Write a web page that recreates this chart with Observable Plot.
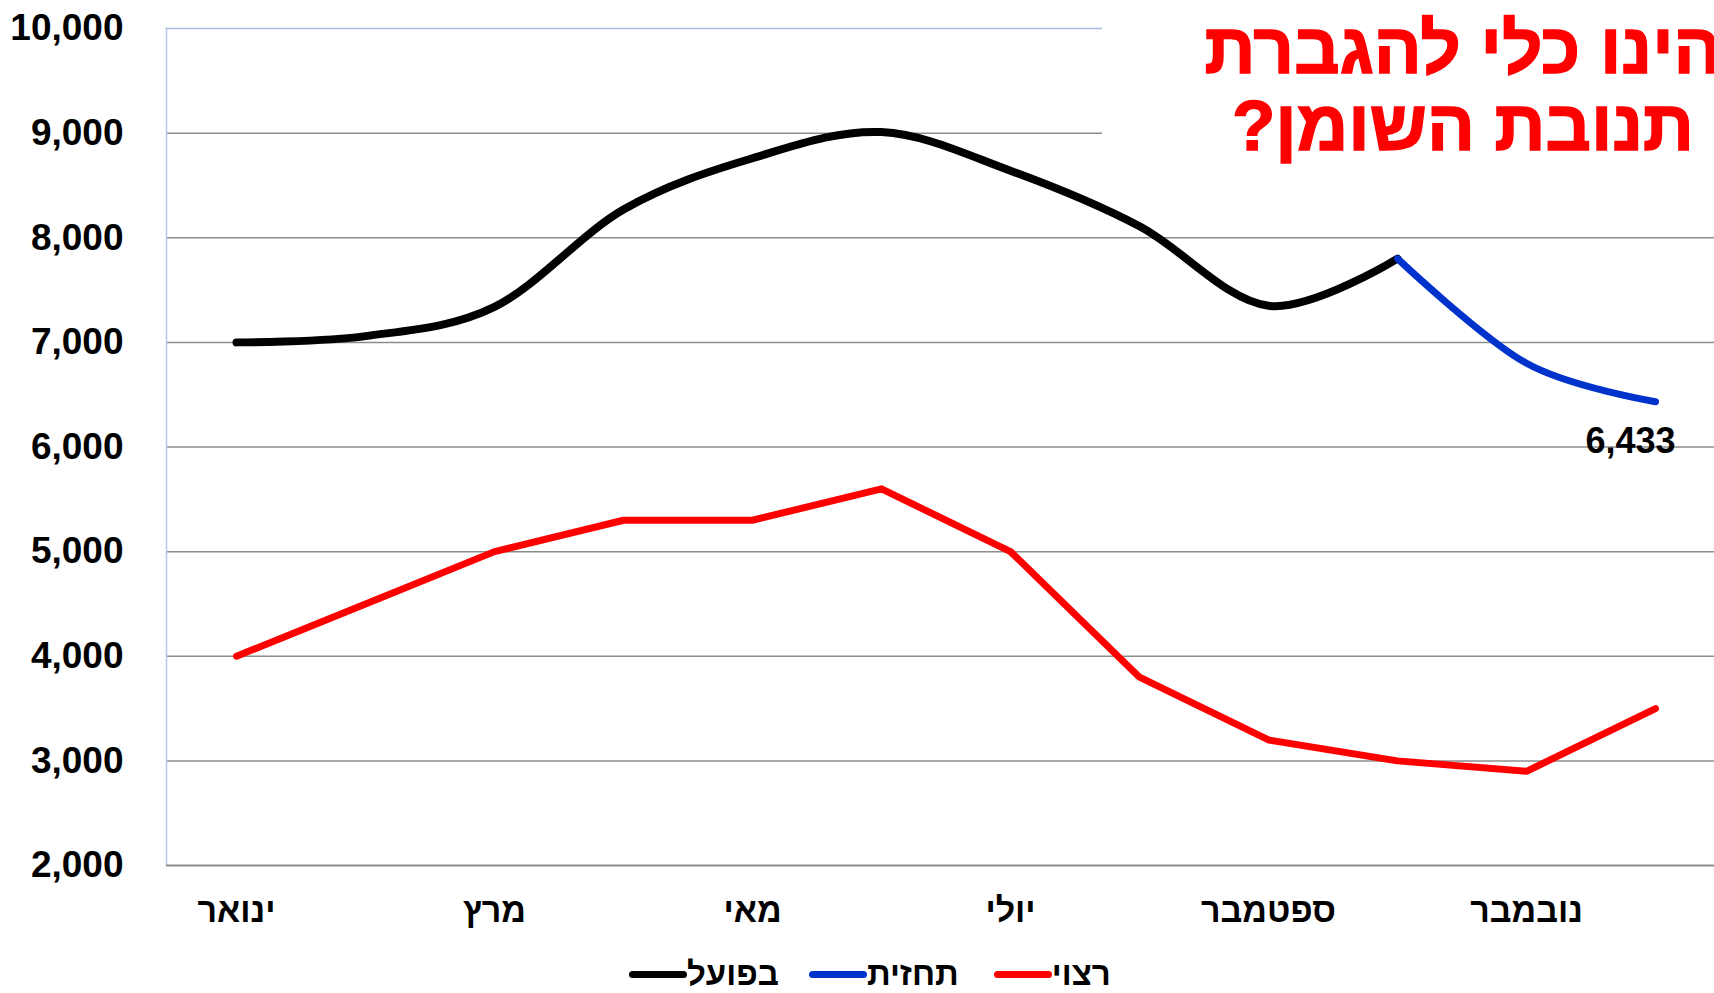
<!DOCTYPE html>
<html>
<head>
<meta charset="utf-8">
<script src="https://cdn.jsdelivr.net/npm/d3@7"></script>
<script src="https://cdn.jsdelivr.net/npm/@observablehq/plot@0.6"></script>
<style>
  html, body { margin: 0; padding: 0; background: #fff; overflow: hidden; }
  #wrap { position: relative; width: 1714px; height: 993px; font-family: 'Liberation Sans', Arial, 'DejaVu Sans', sans-serif; }
  #title { position: absolute; left: 1102px; top: 0; width: 612px; height: 182px; background: #fff; overflow: hidden; }
  #title .inner { position: absolute; left: -39px; top: 10px; width: 800px; text-align: center; direction: rtl;
    font-weight: bold; font-size: 71px; line-height: 77px; color: #ff0000; white-space: nowrap;
    -webkit-text-stroke: 1.5px #ff0000; }
  #legend { position: relative; height: 43px; display: flex; align-items: flex-start; padding-left: 629px; }
  #legend .item { display: flex; align-items: flex-start; margin-right: 30px; }
  #legend .item:nth-child(2) { margin-right: 35px; }
  #legend .sw { width: 58px; height: 7px; border-radius: 4px; margin-top: 21px; }
  #legend .lb { font-weight: bold; font-size: 33px; line-height: 26px; height: 26px; margin-top: 11px; direction: rtl; color: #000; }
</style>
</head>
<body>
<div id="wrap">
  <div id="chart"></div>
  <div id="legend"></div>
  <div id="title"><div class="inner">הינו כלי להגברת<br>תנובת השומן?</div></div>
</div>
<script>
// ---- data ----
const months = ["ינואר", "פברואר", "מרץ", "אפריל", "מאי", "יוני", "יולי", "אוגוסט", "ספטמבר", "אוקטובר", "נובמבר", "דצמבר"];
const xTickLabels = ["ינואר", "מרץ", "מאי", "יולי", "ספטמבר", "נובמבר"];
const yTicks = [2000, 3000, 4000, 5000, 6000, 7000, 8000, 9000, 10000];
const gridValues = [3000, 4000, 5000, 6000, 7000, 8000, 9000];

const actualMonths = ["ינואר", "פברואר", "מרץ", "אפריל", "מאי", "יוני", "יולי", "אוגוסט", "ספטמבר", "אוקטובר"];
const actualValues = [7000, 7060, 7340, 8270, 8760, 9010, 8640, 8110, 7350, 7800];

const forecastMonths = ["אוקטובר", "נובמבר", "דצמבר"];
const forecastValues = [7800, 6800, 6433];

const desiredValues = [4000, 4500, 5000, 5300, 5300, 5600, 5000, 3800, 3200, 3000, 2900, 3500];

const seriesNames = ["בפועל", "תחזית", "רצוי"];
const seriesColors = ["#000000", "#0033cc", "#ff0000"];

// ---- tables ----
const actualRows = actualMonths.map((m, i) => ({month: m, value: actualValues[i]}));
const forecastRows = forecastMonths.map((m, i) => ({month: m, value: forecastValues[i]}));
const desiredRows = months.map((m, i) => ({month: m, value: desiredValues[i]}));
const lastForecast = [forecastRows[forecastRows.length - 1]];

const fmt = d3.format(",");

const chart = Plot.plot({
  width: 1714,
  height: 950,
  marginLeft: 166,
  marginRight: 0,
  marginTop: 28,
  marginBottom: 85,
  x: {type: "point", domain: months, range: [231.5, 1659], padding: 0},
  y: {domain: [2000, 10000], range: [865, 28]},
  style: {fontFamily: "'Liberation Sans', Arial, 'DejaVu Sans', sans-serif", background: "#fff", overflow: "hidden"},
  marks: [
    Plot.ruleY(gridValues, {stroke: "#8c8c8c", strokeWidth: 1.5}),
    Plot.frame({anchor: "left", stroke: "#b3c7ea", strokeWidth: 1.5}),
    Plot.frame({anchor: "top", stroke: "#a5bde6", strokeWidth: 1.5}),
    Plot.ruleY([2000], {stroke: "#8c8c8c", strokeWidth: 2.2}),
    Plot.axisY({ticks: yTicks, tickSize: 0, tickPadding: 43, tickFormat: fmt, fontSize: 37, fontWeight: "bold", fill: "#000", label: null}),
    Plot.axisX({ticks: xTickLabels, tickSize: 0, tickPadding: 32, fontSize: 34, fontWeight: "bold", fill: "#000", label: null}),
    Plot.line(desiredRows, {x: "month", y: "value", stroke: seriesColors[2], strokeWidth: 7, strokeLinecap: "round"}),
    Plot.line(actualRows, {x: "month", y: "value", curve: "cardinal", stroke: seriesColors[0], strokeWidth: 8, strokeLinecap: "round", strokeLinejoin: "round"}),
    Plot.line(forecastRows, {x: "month", y: "value", curve: "cardinal", stroke: seriesColors[1], strokeWidth: 7, strokeLinecap: "round", strokeLinejoin: "round"}),
    Plot.text(lastForecast, {x: "month", y: "value", text: d => fmt(d.value), dx: -25, dy: 40, fontSize: 36, fontWeight: "bold", fill: "#000"})
  ]
});
document.getElementById("chart").appendChild(chart);

// ---- legend ----
const legend = document.getElementById("legend");
seriesNames.forEach((name, i) => {
  const item = document.createElement("div");
  item.className = "item";
  const sw = document.createElement("span");
  sw.className = "sw";
  sw.style.background = seriesColors[i];
  const lb = document.createElement("span");
  lb.className = "lb";
  lb.textContent = name;
  item.appendChild(sw);
  item.appendChild(lb);
  legend.appendChild(item);
});
</script>
</body>
</html>
